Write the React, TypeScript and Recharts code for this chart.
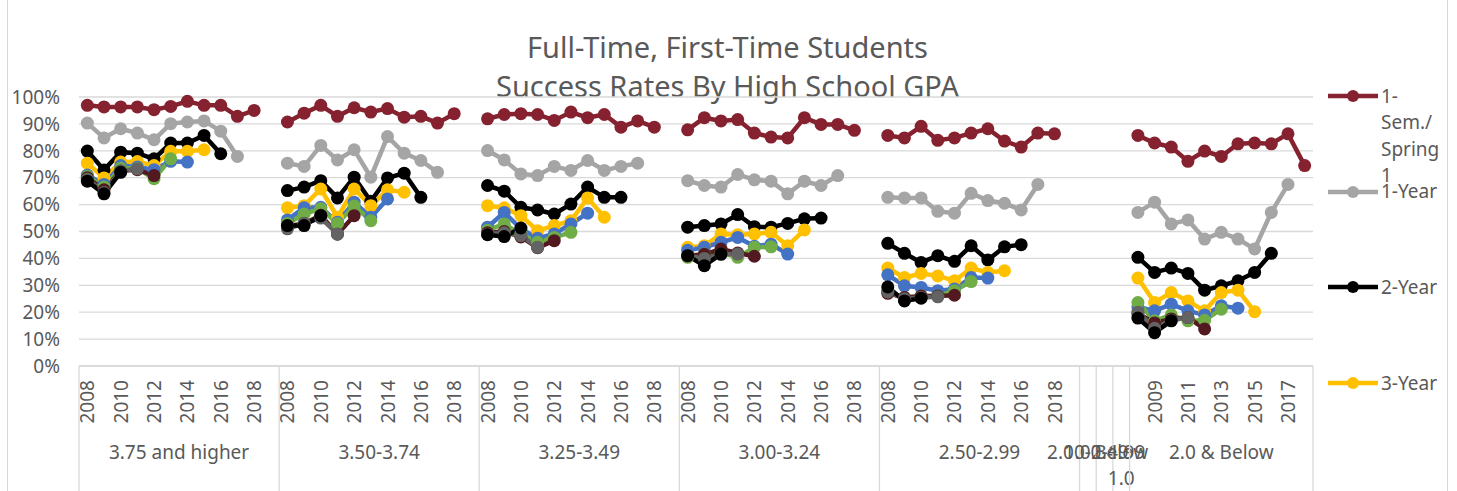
import { LineChart, Line, XAxis, YAxis, CartesianGrid } from "recharts";

const W = 1457;
const H = 491;
const MARGIN = { top: 97, right: 144, bottom: 0, left: 9 };
const Y_AXIS_W = 70;
const X_AXIS_H = 125;
const FONT = "'Noto Sans', 'Open Sans', sans-serif";
const TEXT = "#595959";
const GRID = "#D9D9D9";

// GPA groups (the three narrow ones hold no data)
const GROUPS = [
  "3.75 and higher",
  "3.50-3.74",
  "3.25-3.49",
  "3.00-3.24",
  "2.50-2.99",
  "2.00-2.49",
  "1.00-1.99",
  "Below 1.0",
  "2.0 & Below",
];
const YEARS12 = ["2008", "2009", "2010", "2011", "2012", "2013", "2014", "2015", "2016", "2017", "2018", ""];
const YEARS11 = ["2008", "2009", "2010", "2011", "2012", "2013", "2014", "2015", "2016", "2017", "2018"];
const GROUP_YEARS = [YEARS12, YEARS12, YEARS12, YEARS12, YEARS12, [""], [""], [""], YEARS11];

// values in %, one sub-array per group, starting at 2008
const SEM1 = [
  [96.9, 96.3, 96.3, 96.3, 95.3, 96.5, 98.4, 96.9, 96.9, 92.8, 95.0],
  [90.7, 94.0, 96.9, 92.8, 96.0, 94.4, 95.7, 92.5, 92.8, 90.3, 93.8],
  [91.9, 93.5, 93.8, 93.5, 91.3, 94.4, 92.3, 93.5, 88.8, 91.1, 88.8],
  [87.8, 92.3, 91.1, 91.6, 86.6, 85.1, 84.8, 92.3, 89.8, 89.8, 87.6],
  [85.7, 84.8, 89.1, 83.9, 84.8, 86.6, 88.2, 83.6, 81.4, 86.6, 86.3],
  [], [], [],
  [85.7, 82.9, 81.4, 76.1, 79.9, 77.9, 82.6, 82.9, 82.6, 86.3, 74.5],
];
const YEAR1 = [
  [90.3, 84.8, 88.2, 86.6, 84.1, 90.1, 90.7, 91.1, 87.3, 77.9],
  [75.4, 74.2, 82.0, 76.6, 80.4, 70.2, 85.3, 79.1, 76.4, 72.0],
  [80.1, 76.6, 71.4, 70.8, 74.2, 72.7, 76.4, 72.7, 74.2, 75.4],
  [68.9, 67.1, 66.5, 71.2, 69.2, 68.7, 64.0, 68.7, 67.1, 70.8],
  [62.7, 62.5, 62.5, 57.5, 56.8, 64.2, 61.5, 60.5, 58.0, 67.5],
  [], [], [],
  [57.1, 60.9, 52.8, 54.3, 47.2, 49.7, 47.2, 43.5, 57.1, 67.5],
];
const YEAR2 = [
  [79.9, 72.9, 79.5, 79.1, 77.0, 82.9, 82.9, 85.7, 78.9],
  [65.2, 66.5, 68.9, 62.5, 70.2, 61.2, 69.9, 71.7, 62.7],
  [67.1, 65.0, 59.0, 58.0, 56.5, 60.2, 66.5, 62.7, 62.7],
  [51.6, 52.2, 52.8, 56.3, 51.8, 51.6, 53.0, 54.7, 55.0],
  [45.6, 41.9, 38.5, 41.0, 38.9, 44.7, 39.4, 44.3, 45.1],
  [], [], [],
  [40.4, 34.8, 36.4, 34.4, 28.2, 29.8, 31.7, 34.8, 41.9],
];
const YEAR3 = [
  [75.4, 69.9, 75.8, 76.0, 74.5, 79.8, 79.8, 80.4],
  [58.8, 59.6, 65.8, 55.3, 65.8, 59.6, 65.5, 64.6],
  [59.6, 58.8, 55.9, 50.3, 52.2, 54.0, 62.5, 55.3],
  [44.1, 44.7, 49.1, 48.8, 49.1, 49.7, 44.7, 50.6],
  [36.4, 32.9, 34.4, 33.5, 31.7, 36.4, 34.8, 35.4],
  [], [], [],
  [32.7, 23.6, 27.3, 24.2, 20.5, 27.3, 28.2, 20.2],
];
const YEAR4 = [
  [71.0, 67.5, 74.5, 74.0, 73.0, 76.1, 75.8],
  [54.3, 58.8, 59.0, 53.4, 60.9, 55.3, 62.1],
  [51.6, 57.1, 51.0, 47.5, 49.1, 52.8, 56.8],
  [43.0, 44.1, 46.0, 47.8, 44.5, 45.3, 41.6],
  [33.9, 29.8, 29.2, 28.0, 28.6, 32.9, 32.7],
  [], [], [],
  [22.0, 20.5, 23.0, 20.5, 19.0, 22.4, 21.5],
];
const YEAR5 = [
  [70.5, 66.5, 73.5, 73.5, 69.6, 77.0],
  [53.0, 56.5, 58.5, 53.0, 59.5, 54.0],
  [50.5, 52.8, 49.0, 46.0, 47.8, 49.7],
  [40.4, 41.6, 42.2, 40.4, 44.1, 44.3],
  [28.0, 25.0, 26.0, 26.0, 28.0, 31.4],
  [], [], [],
  [23.6, 16.8, 19.0, 16.8, 17.0, 21.1],
];
const YEAR6 = [
  [70.0, 65.5, 72.5, 73.0, 70.8],
  [52.0, 53.0, 56.0, 49.0, 55.9],
  [49.5, 50.0, 48.0, 44.0, 46.6],
  [41.0, 41.5, 43.5, 42.0, 40.8],
  [27.0, 25.5, 26.0, 26.0, 26.3],
  [], [], [],
  [19.5, 16.0, 17.5, 18.0, 13.8],
];
const YEAR7 = [
  [69.5, 64.5, 72.5, 73.3],
  [51.0, 53.0, 55.0, 49.1],
  [49.0, 49.5, 48.5, 44.1],
  [41.0, 40.0, 41.5, 41.6],
  [27.5, 25.0, 25.5, 25.7],
  [], [], [],
  [20.0, 14.0, 17.0, 18.0],
];
const YEAR8 = [
  [68.7, 64.0, 72.0],
  [52.2, 52.2, 55.9],
  [48.8, 48.1, 51.3],
  [41.0, 37.3, 41.6],
  [29.4, 24.2, 25.2],
  [], [], [],
  [17.8, 12.4, 16.8],
];

const SERIES = [
  { key: "s0", name: "1-Sem./Spring 1", color: "#86222F", values: SEM1 },
  { key: "s1", name: "1-Year", color: "#A5A5A5", values: YEAR1 },
  { key: "s2", name: "2-Year", color: "#000000", values: YEAR2 },
  { key: "s3", name: "3-Year", color: "#FFC000", values: YEAR3 },
  { key: "s4", name: "4-Year", color: "#4472C4", values: YEAR4 },
  { key: "s5", name: "5-Year", color: "#70AD47", values: YEAR5 },
  { key: "s6", name: "6-Year", color: "#521A20", values: YEAR6 },
  { key: "s7", name: "7-Year", color: "#636363", values: YEAR7 },
  { key: "s8", name: "8-Year", color: "#000000", values: YEAR8 },
];

const Y_TICKS = [0, 10, 20, 30, 40, 50, 60, 70, 80, 90, 100];

type Row = { [k: string]: any };
const rows: Row[] = [];
GROUPS.forEach((group, g) => {
  GROUP_YEARS[g].forEach((year, j) => {
    const row: Row = {
      idx: String(rows.length),
      year,
      group,
      first: j === 0,
      size: GROUP_YEARS[g].length,
    };
    SERIES.forEach((s) => {
      const v = s.values[g][j];
      row[s.key] = v === undefined ? null : v;
    });
    rows.push(row);
  });
});

const PLOT_W = W - MARGIN.left - MARGIN.right - Y_AXIS_W;
const CAT_W = PLOT_W / rows.length;

function CategoryTick(props: any) {
  const { x, y, payload } = props;
  const i = payload.index;
  const row = rows[i];
  if (!row) return null;
  const parts: any[] = [];
  if (i % 2 === 0 && row.year) {
    parts.push(
      <text
        key="yr"
        x={x}
        y={y + 14}
        transform={`rotate(-90 ${x} ${y + 14})`}
        textAnchor="end"
        dominantBaseline="central"
        fontSize={19}
        fill={TEXT}
      >
        {row.year}
      </text>
    );
  }
  if (row.first) {
    const left = x - CAT_W / 2;
    const cx = left + (row.size * CAT_W) / 2;
    parts.push(<line key="sep" x1={left} x2={left} y1={y} y2={y + X_AXIS_H} stroke={GRID} strokeWidth={1.3} />);
    const words = row.size === 1 && row.group.includes(" ") ? row.group.split(" ") : [row.group];
    parts.push(
      <text key="grp" x={cx} y={y + 86} textAnchor="middle" dominantBaseline="central" fontSize={19} fill={TEXT}>
        {words.map((w: string, k: number) => (
          <tspan key={k} x={cx} dy={k === 0 ? 0 : 26}>
            {w}
          </tspan>
        ))}
      </text>
    );
  }
  if (i === rows.length - 1) {
    const right = x + CAT_W / 2;
    parts.push(<line key="end" x1={right} x2={right} y1={y} y2={y + X_AXIS_H} stroke={GRID} strokeWidth={1.3} />);
  }
  return <g>{parts}</g>;
}

// legend only shows the first four entries (the rest is cut off)
function wrapName(name: string, maxChars: number): string[] {
  const tokens = name.split(/(?<=[-\/ ])/);
  const lines: string[] = [];
  let cur = "";
  tokens.forEach((t) => {
    if (cur && (cur + t).trim().length > maxChars) {
      lines.push(cur.trim());
      cur = t;
    } else cur += t;
  });
  if (cur) lines.push(cur.trim());
  return lines;
}

function LegendBox() {
  return (
    <>
      {SERIES.slice(0, 4).map((s, i) => {
        const cy = 96 + i * 95.7;
        return (
          <div key={s.key}>
            <svg
              width={54}
              height={16}
              style={{ position: "absolute", left: 1326, top: cy - 8 }}
            >
              <line x1={2} x2={52} y1={8} y2={8} stroke={s.color} strokeWidth={4.5} />
              <circle cx={27} cy={8} r={6} fill={s.color} />
            </svg>
            <div
              style={{
                position: "absolute",
                left: 1381,
                top: cy - 13.5,
                fontSize: 19,
                lineHeight: "26.5px",
                color: TEXT,
                whiteSpace: "nowrap",
              }}
            >
              {wrapName(s.name, 6).map((l, k) => (
                <div key={k}>{l}</div>
              ))}
            </div>
          </div>
        );
      })}
    </>
  );
}

export default function App() {
  return (
    <div
      style={{
        position: "absolute",
        left: 0,
        top: 0,
        width: W,
        height: H,
        background: "#fff",
        fontFamily: FONT,
        overflow: "hidden",
      }}
    >
      <div
        style={{
          position: "absolute",
          left: 7,
          top: -2,
          width: 1441,
          height: H + 4,
          borderLeft: `1.5px solid ${GRID}`,
          borderRight: `1.5px solid ${GRID}`,
          boxSizing: "border-box",
        }}
      />
      <div
        style={{
          position: "absolute",
          left: 7,
          width: 1441,
          top: 27,
          textAlign: "center",
          fontSize: 29,
          lineHeight: "39px",
          color: TEXT,
        }}
      >
        <div>Full-Time, First-Time Students</div>
        <div>Success Rates By High School GPA</div>
      </div>
      <div style={{ position: "absolute", left: 0, top: 0 }}>
        <LineChart width={W} height={H} data={rows} margin={MARGIN} style={{ fontFamily: FONT }}>
          <CartesianGrid horizontal vertical={false} stroke={GRID} strokeWidth={1.3} />
          <XAxis
            dataKey="idx"
            scale="band"
            interval={0}
            height={X_AXIS_H}
            axisLine={{ stroke: GRID, strokeWidth: 1.3 }}
            tickLine={false}
            tickSize={0}
            tickMargin={0}
            tick={<CategoryTick />}
          />
          <YAxis
            width={Y_AXIS_W}
            domain={[0, 100]}
            ticks={Y_TICKS}
            interval={0}
            tickFormatter={(v: number) => `${v}%`}
            axisLine={false}
            tickLine={false}
            tickSize={0}
            tickMargin={19}
            tick={{ fontSize: 19, fill: TEXT }}
          />
          {SERIES.map((s) => (
            <Line
              key={s.key}
              dataKey={s.key}
              name={s.name}
              type="linear"
              stroke={s.color}
              strokeWidth={4.5}
              dot={{ r: 6.5, fill: s.color, stroke: s.color, strokeWidth: 0 }}
              activeDot={false}
              connectNulls={false}
              isAnimationActive={false}
            />
          ))}
        </LineChart>
      </div>
      <LegendBox />
    </div>
  );
}
